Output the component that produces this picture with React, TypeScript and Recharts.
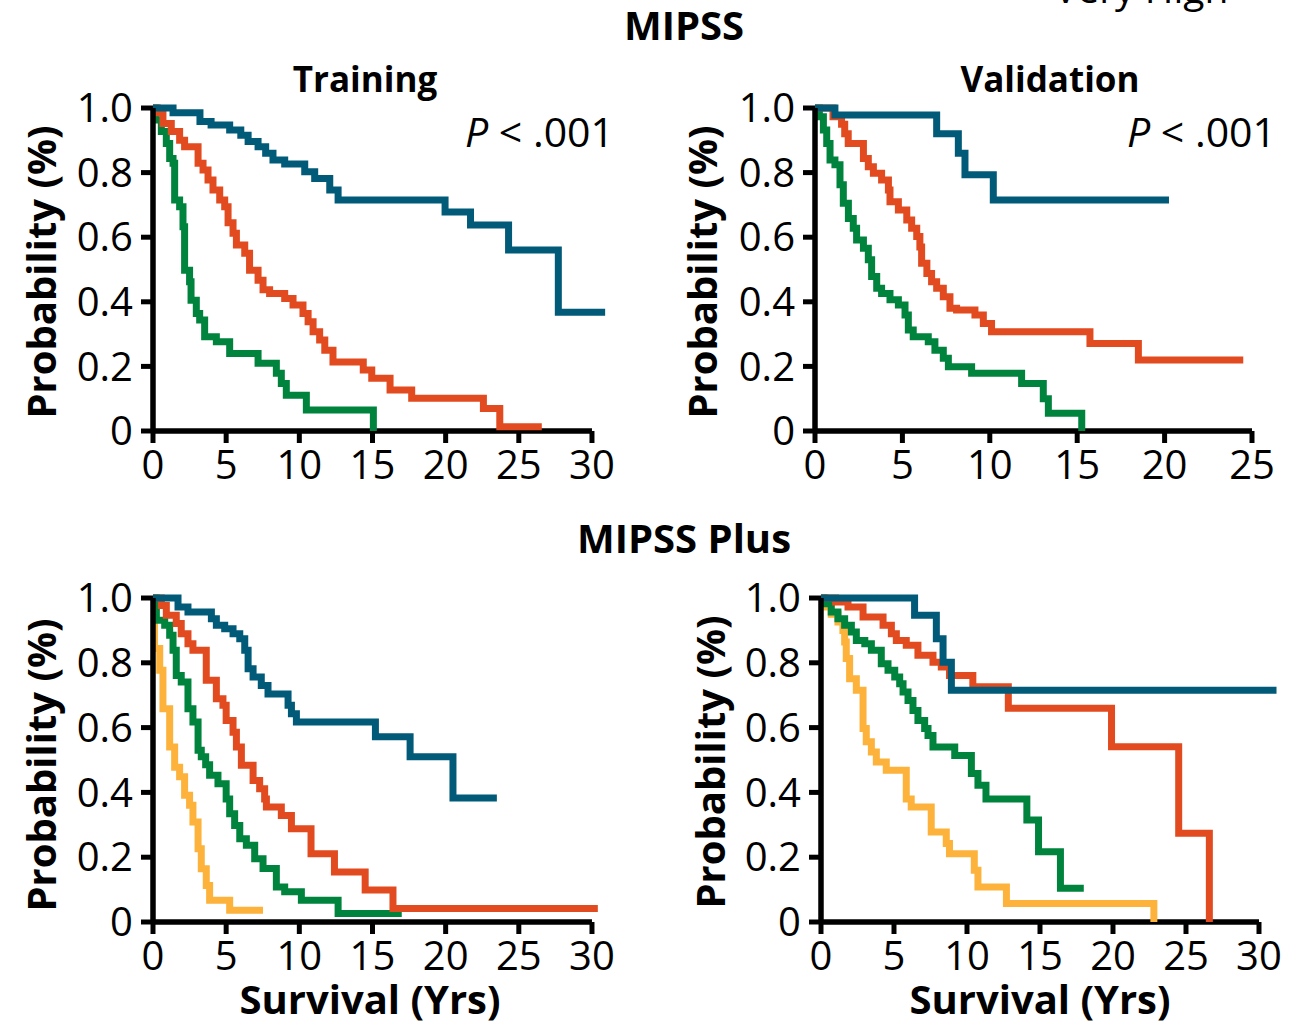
import React from "react";
import { LineChart, Line, XAxis, YAxis, ReferenceLine } from "recharts";

type Pt = [number, number];

// ---------- MIPSS, Training ----------
const mipssTrainLow: Pt[] = [[0,1],[1.37,0.985],[3.21,0.958],[3.97,0.947],[5.24,0.932],[6.0,0.916],[6.5,0.896],[7.18,0.88],[7.7,0.86],[8.2,0.839],[9.0,0.827],[10.37,0.803],[11.05,0.782],[12.08,0.746],[12.65,0.715],[19.96,0.678],[21.7,0.638],[24.3,0.56],[27.7,0.368],[30.9,0.368]];
const mipssTrainInt: Pt[] = [[0,1],[0.3,0.985],[0.68,0.952],[1.25,0.927],[1.82,0.9],[2.16,0.88],[3.08,0.829],[3.42,0.808],[3.76,0.777],[4.1,0.746],[4.56,0.715],[4.9,0.694],[5.13,0.645],[5.47,0.612],[5.7,0.576],[6.27,0.55],[6.6,0.498],[7.18,0.467],[7.52,0.437],[7.97,0.426],[9.0,0.41],[9.57,0.39],[10.25,0.364],[10.6,0.338],[10.94,0.307],[11.39,0.282],[11.74,0.25],[12.3,0.214],[14.37,0.189],[14.95,0.163],[16.2,0.127],[17.68,0.101],[22.58,0.07],[23.7,0.013],[26.57,0.013]];
const mipssTrainHigh: Pt[] = [[0,1],[0.2,0.963],[0.57,0.927],[0.91,0.89],[1.14,0.844],[1.37,0.829],[1.48,0.715],[1.82,0.694],[2.05,0.632],[2.16,0.498],[2.5,0.462],[2.6,0.405],[2.96,0.364],[3.19,0.344],[3.53,0.292],[4.33,0.276],[5.24,0.24],[7.18,0.21],[8.43,0.179],[8.77,0.147],[9.11,0.111],[10.48,0.065],[15.06,0]];

// ---------- MIPSS, Validation ----------
const mipssValLow: Pt[] = [[0,1],[1.14,0.978],[6.96,0.92],[8.2,0.86],[8.58,0.793],[10.2,0.715],[20.25,0.715]];
const mipssValInt: Pt[] = [[0,1],[1.03,0.973],[1.52,0.95],[1.7,0.92],[1.9,0.89],[2.77,0.844],[3.05,0.818],[3.34,0.798],[3.81,0.777],[4.2,0.746],[4.29,0.71],[4.77,0.684],[5.25,0.653],[5.53,0.628],[5.82,0.602],[6.0,0.57],[6.1,0.519],[6.4,0.488],[6.67,0.462],[6.96,0.442],[7.34,0.416],[7.72,0.38],[8.1,0.375],[9.15,0.359],[9.63,0.333],[10.1,0.307],[15.73,0.271],[18.5,0.22],[24.5,0.22]];
const mipssValHigh: Pt[] = [[0,1],[0.25,0.973],[0.48,0.932],[0.67,0.89],[0.86,0.839],[1.14,0.824],[1.43,0.762],[1.62,0.705],[1.91,0.658],[2.19,0.628],[2.38,0.591],[2.77,0.566],[3.05,0.53],[3.24,0.478],[3.53,0.442],[3.81,0.426],[4.29,0.406],[4.77,0.39],[5.15,0.359],[5.34,0.313],[5.62,0.292],[6.48,0.276],[6.86,0.25],[7.34,0.225],[7.63,0.199],[8.96,0.179],[11.82,0.147],[13.06,0.1],[13.35,0.055],[15.26,0]];

// ---------- MIPSS Plus, Training ----------
const plusTrainLow: Pt[] = [[0,1],[1.71,0.972],[2.39,0.957],[3.99,0.936],[4.33,0.916],[4.9,0.905],[5.47,0.89],[5.93,0.874],[6.27,0.839],[6.5,0.782],[6.84,0.756],[7.4,0.73],[7.86,0.704],[9.23,0.669],[9.46,0.643],[9.8,0.617],[15.2,0.572],[17.57,0.51],[20.5,0.383],[23.5,0.383]];
const plusTrainInt: Pt[] = [[0,1],[0.57,0.977],[0.91,0.947],[1.59,0.921],[1.93,0.89],[2.39,0.859],[2.73,0.839],[3.64,0.746],[4.33,0.689],[4.78,0.669],[5.0,0.622],[5.47,0.586],[5.7,0.54],[6.04,0.484],[6.84,0.437],[7.29,0.411],[7.63,0.38],[7.75,0.355],[8.77,0.329],[9.46,0.288],[10.8,0.211],[12.4,0.154],[14.5,0.099],[16.4,0.042],[30.4,0.042]];
const plusTrainHigh: Pt[] = [[0,1],[0.23,0.931],[0.8,0.916],[1.14,0.885],[1.37,0.839],[1.59,0.761],[1.93,0.741],[2.39,0.658],[2.73,0.617],[3.08,0.53],[3.3,0.51],[3.6,0.485],[3.87,0.453],[4.44,0.427],[5.0,0.38],[5.24,0.334],[5.58,0.298],[5.93,0.257],[6.38,0.237],[6.95,0.195],[7.52,0.165],[8.43,0.108],[9.0,0.093],[10.14,0.067],[12.65,0.026],[17.0,0.026]];
const plusTrainVHigh: Pt[] = [[0,1],[0.1,0.844],[0.46,0.777],[0.68,0.658],[1.14,0.54],[1.48,0.478],[1.82,0.448],[2.16,0.391],[2.5,0.36],[2.73,0.309],[3.08,0.226],[3.3,0.164],[3.64,0.113],[3.87,0.067],[5.24,0.036],[7.52,0.036]];

// ---------- MIPSS Plus, Validation ----------
const plusValLow: Pt[] = [[0,1],[6.41,0.947],[7.9,0.874],[8.36,0.802],[8.93,0.715],[31.2,0.715]];
const plusValInt: Pt[] = [[0,1],[1.0,0.988],[1.85,0.972],[2.88,0.941],[4.25,0.916],[4.82,0.89],[5.16,0.869],[5.84,0.854],[6.64,0.823],[7.67,0.802],[8.24,0.787],[8.8,0.761],[10.4,0.726],[12.83,0.66],[19.9,0.541],[24.5,0.274],[26.6,0]];
const plusValHigh: Pt[] = [[0,1],[0.2,0.982],[0.7,0.957],[1.16,0.936],[1.62,0.916],[2.08,0.895],[2.42,0.869],[3.0,0.859],[3.45,0.839],[4.13,0.797],[4.59,0.777],[5.05,0.756],[5.39,0.735],[5.62,0.71],[5.96,0.684],[6.3,0.653],[6.64,0.622],[7.1,0.597],[7.33,0.576],[7.67,0.54],[9.16,0.514],[10.3,0.458],[10.75,0.422],[11.3,0.38],[14.1,0.315],[14.9,0.217],[16.4,0.104],[18.0,0.104]];
const plusValVHigh: Pt[] = [[0,1],[0.3,0.972],[0.7,0.95],[1.16,0.926],[1.5,0.9],[1.62,0.864],[1.73,0.813],[1.96,0.751],[2.42,0.715],[2.88,0.597],[3.1,0.556],[3.45,0.525],[3.79,0.494],[4.47,0.468],[5.84,0.38],[6.18,0.355],[7.55,0.278],[8.58,0.242],[8.8,0.211],[10.5,0.16],[10.75,0.108],[12.7,0.057],[22.8,0]];

const xTicks30 = [0, 5, 10, 15, 20, 25, 30];
const xTicks25 = [0, 5, 10, 15, 20, 25];
const yTicks = [0, 0.2, 0.4, 0.6, 0.8, 1.0];

const BLUE = "#005a78";
const RED = "#e24a1f";
const GREEN = "#00843d";
const YELLOW = "#fdb33b";

const FONT = "'Open Sans', 'Noto Sans', sans-serif";
const CURVE_W = 7;

interface Series { name: string; color: string; pts: Pt[] }

function toRows(pts: Pt[]) {
  return pts.map(([t, s]) => ({ t, s }));
}

interface PanelProps {
  plotLeft: number;
  plotTop: number;
  plotH: number;
  pxPerYr: number;
  xMax: number;
  axisEnd: number;
  ticks: number[];
  series: Series[];
}

function KMPanel({ plotLeft, plotTop, plotH, pxPerYr, xMax, axisEnd, ticks, series }: PanelProps) {
  const YW = 100, T = 30, R = 30, XH = 60;
  const plotW = pxPerYr * xMax;
  const width = YW + plotW + R;
  const height = T + plotH + XH;
  const tickStyle = { fill: "#000", fontSize: 40, fontFamily: FONT };
  return (
    <div style={{ position: "absolute", left: plotLeft - YW, top: plotTop - T, width, height }}>
      <LineChart width={width} height={height} margin={{ top: T, right: R, bottom: 0, left: 0 }}>
        <XAxis
          type="number"
          dataKey="t"
          domain={[0, xMax]}
          ticks={ticks}
          interval={0}
          axisLine={false}
          tickLine={{ stroke: "#000", strokeWidth: 5 }}
          tickSize={12}
          tickMargin={8}
          height={XH}
          tick={tickStyle}
        />
        <YAxis
          type="number"
          domain={[0, 1]}
          ticks={yTicks}
          interval={0}
          width={YW}
          axisLine={{ stroke: "#000", strokeWidth: 5.5 }}
          tickLine={{ stroke: "#000", strokeWidth: 5 }}
          tickSize={12}
          tickMargin={8}
          tick={tickStyle}
          tickFormatter={(v: number) => (v === 0 ? "0" : v.toFixed(1))}
        />
        <ReferenceLine
          segment={[{ x: 0, y: 0 }, { x: axisEnd, y: 0 }]}
          stroke="#000"
          strokeWidth={5.5}
          ifOverflow="visible"
        />
        {series.map((s) => (
          <Line
            key={s.name}
            data={toRows(s.pts)}
            dataKey="s"
            name={s.name}
            type="stepAfter"
            stroke={s.color}
            strokeWidth={CURVE_W}
            dot={false}
            activeDot={false}
            isAnimationActive={false}
          />
        ))}
      </LineChart>
    </div>
  );
}

export default function App() {
  const bold = { fontFamily: FONT, fontWeight: 700 as const, fill: "#000" };
  const reg = { fontFamily: FONT, fontWeight: 400 as const, fill: "#000" };
  return (
    <div style={{ position: "absolute", left: 0, top: 0, width: 1309, height: 1026, background: "#fff", overflow: "hidden" }}>
      <svg width={1309} height={1026} style={{ position: "absolute", left: 0, top: 0 }}>
        <text x={1054} y={3} fontSize={39} {...reg}>Very High</text>
        <text x={684} y={40} fontSize={40} textAnchor="middle" {...bold}>MIPSS</text>
        <text x={365} y={92} fontSize={35} textAnchor="middle" {...bold}>Training</text>
        <text x={1050} y={92} fontSize={35} textAnchor="middle" {...bold}>Validation</text>
        <text x={614} y={147} fontSize={41} textAnchor="end" {...reg}>
          <tspan fontStyle="italic">P</tspan> {"< .001"}
        </text>
        <text x={1276} y={147} fontSize={41} textAnchor="end" {...reg}>
          <tspan fontStyle="italic">P</tspan> {"< .001"}
        </text>
        <text x={684} y={553} fontSize={40} textAnchor="middle" {...bold}>MIPSS Plus</text>
        <text x={370} y={1014} fontSize={40} textAnchor="middle" {...bold}>Survival (Yrs)</text>
        <text x={1040} y={1014} fontSize={40} textAnchor="middle" {...bold}>Survival (Yrs)</text>
        <text transform="translate(40,272) rotate(-90)" fontSize={40} textAnchor="middle" dominantBaseline="central" {...bold}>Probability (%)</text>
        <text transform="translate(701,272) rotate(-90)" fontSize={40} textAnchor="middle" dominantBaseline="central" {...bold}>Probability (%)</text>
        <text transform="translate(40,765) rotate(-90)" fontSize={40} textAnchor="middle" dominantBaseline="central" {...bold}>Probability (%)</text>
        <text transform="translate(709,762) rotate(-90)" fontSize={40} textAnchor="middle" dominantBaseline="central" {...bold}>Probability (%)</text>
      </svg>
      <KMPanel
        plotLeft={153} plotTop={108} plotH={323} pxPerYr={14.633} xMax={31} axisEnd={30} ticks={xTicks30}
        series={[
          { name: "High", color: GREEN, pts: mipssTrainHigh },
          { name: "Intermediate", color: RED, pts: mipssTrainInt },
          { name: "Low", color: BLUE, pts: mipssTrainLow },
        ]}
      />
      <KMPanel
        plotLeft={815} plotTop={108} plotH={323} pxPerYr={17.48} xMax={25} axisEnd={25} ticks={xTicks25}
        series={[
          { name: "High", color: GREEN, pts: mipssValHigh },
          { name: "Intermediate", color: RED, pts: mipssValInt },
          { name: "Low", color: BLUE, pts: mipssValLow },
        ]}
      />
      <KMPanel
        plotLeft={153} plotTop={598} plotH={324} pxPerYr={14.633} xMax={31} axisEnd={30} ticks={xTicks30}
        series={[
          { name: "Very High", color: YELLOW, pts: plusTrainVHigh },
          { name: "High", color: GREEN, pts: plusTrainHigh },
          { name: "Intermediate", color: RED, pts: plusTrainInt },
          { name: "Low", color: BLUE, pts: plusTrainLow },
        ]}
      />
      <KMPanel
        plotLeft={821} plotTop={598} plotH={324} pxPerYr={14.6} xMax={31.5} axisEnd={30} ticks={xTicks30}
        series={[
          { name: "Very High", color: YELLOW, pts: plusValVHigh },
          { name: "High", color: GREEN, pts: plusValHigh },
          { name: "Intermediate", color: RED, pts: plusValInt },
          { name: "Low", color: BLUE, pts: plusValLow },
        ]}
      />
    </div>
  );
}
